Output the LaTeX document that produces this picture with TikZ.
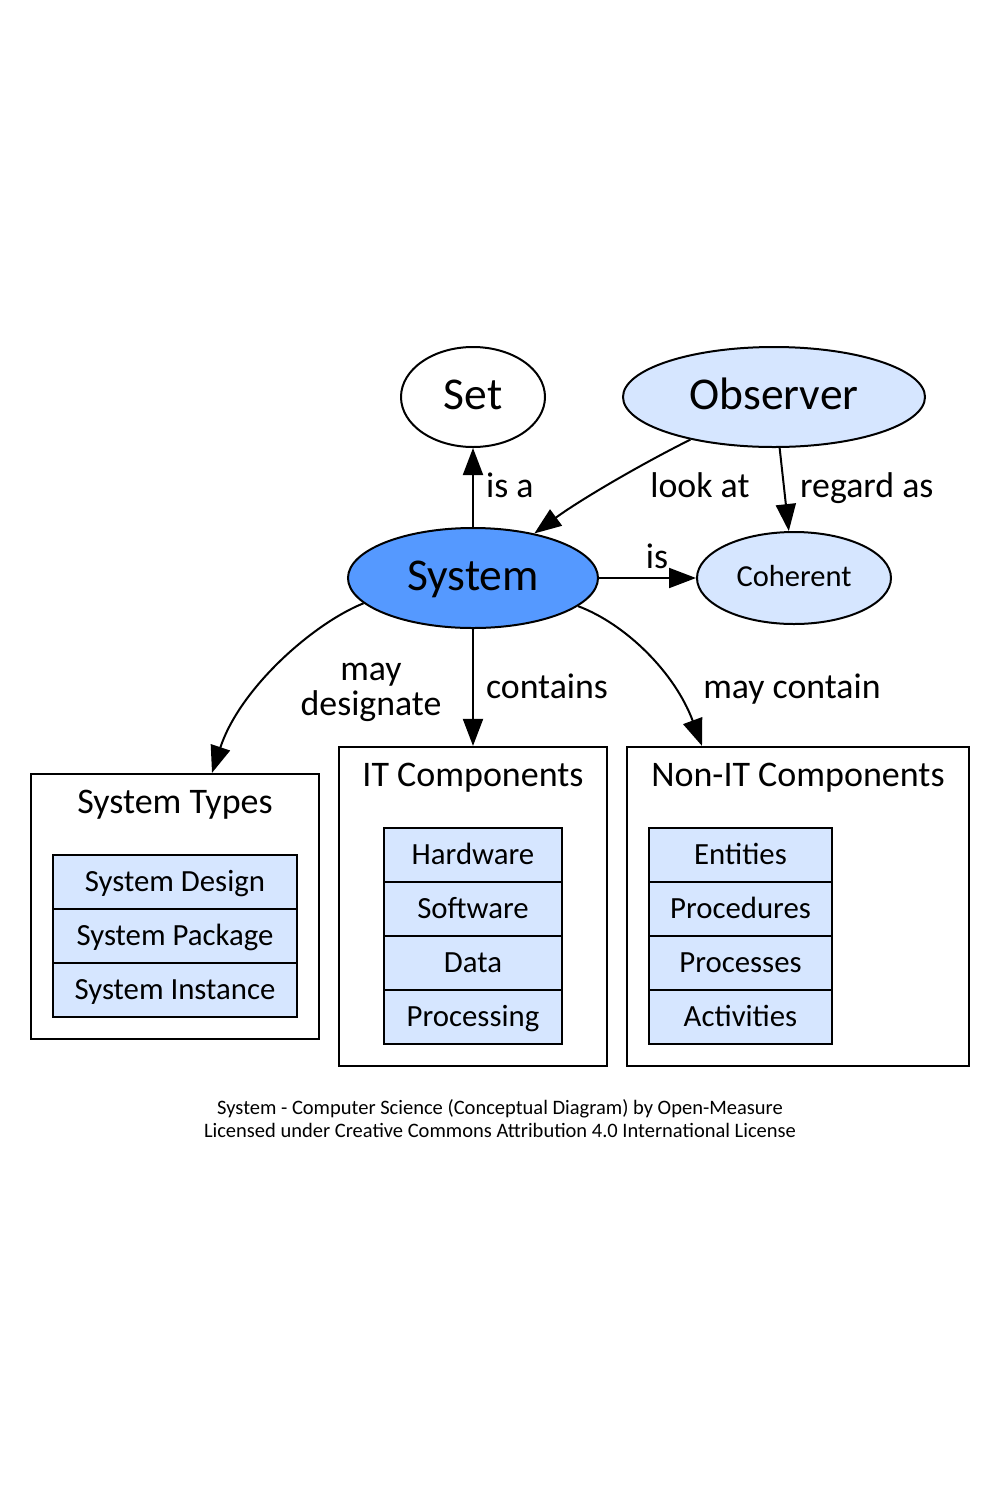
\documentclass[tikz,border=0pt]{standalone}
\usepackage{fontspec}
\setmainfont{Carlito}
\usetikzlibrary{arrows.meta,shapes.geometric}
\definecolor{lb}{RGB}{214,230,255}
\definecolor{sb}{RGB}{85,153,255}
\begin{document}
\begin{tikzpicture}[x=1pt,y=-1pt,
  arr/.style={-{Triangle[length=27pt,width=20pt]}, line width=2pt},
  ell/.style={ellipse, draw, line width=2pt, inner sep=0pt, text height=29pt, text depth=4pt, font=\fontsize{45.5pt}{54pt}\selectfont},
  rowbox/.style={rectangle, draw, line width=2pt, fill=lb, inner sep=0pt, font=\fontsize{30.8pt}{36pt}\selectfont, text height=19.8pt, text depth=0pt},
  outerbox/.style={rectangle, draw, line width=2.2pt, inner sep=0pt},
  lab/.style={font=\fontsize{35.8pt}{42pt}\selectfont, anchor=base, inner sep=0pt},
  ttl/.style={font=\fontsize{36pt}{42pt}\selectfont, anchor=base, inner sep=0pt},
  foot/.style={font=\fontsize{20.5pt}{24pt}\selectfont, anchor=base, inner sep=0pt}]
\useasboundingbox (0,0) rectangle (1000,1500);
\fill[white] (0,0) rectangle (1000,1500);

% ellipses
\node[ell, minimum width=144pt, minimum height=100pt] (set) at (473,397) {Set};
\node[ell, fill=lb, minimum width=302pt, minimum height=100pt] (obs) at (774,397) {Observer};
\node[ell, fill=sb, minimum width=250pt, minimum height=100pt] (sys) at (473,578) {System};
\node[ell, fill=lb, minimum width=194pt, minimum height=92pt, font=\fontsize{30.5pt}{36pt}\selectfont, text height=19.6pt, text depth=2pt] (coh) at (794,578) {Coherent};

% outer boxes
\node[outerbox, minimum width=288pt, minimum height=265pt] (types) at (175,906.5) {};
\node[outerbox, minimum width=268pt, minimum height=319pt] (it) at (473,906.5) {};
\node[outerbox, minimum width=342pt, minimum height=319pt] (nonit) at (798,906.5) {};

\node[ttl] (typesT) at (175,813) {System Types};
\node[ttl] (itT) at (473,786) {IT Components};
\node[ttl] (nonitT) at (798,786) {Non-IT Components};

% rows
\node[rowbox, minimum width=244pt, minimum height=54pt] (t1) at (175,882) {System Design};
\node[rowbox, minimum width=244pt, minimum height=54pt] (t2) at (175,936) {System Package};
\node[rowbox, minimum width=244pt, minimum height=54pt] (t3) at (175,990) {System Instance};

\node[rowbox, minimum width=178pt, minimum height=54pt] (i1) at (473,855) {Hardware};
\node[rowbox, minimum width=178pt, minimum height=54pt] (i2) at (473,909) {Software};
\node[rowbox, minimum width=178pt, minimum height=54pt] (i3) at (473,963) {Data};
\node[rowbox, minimum width=178pt, minimum height=54pt] (i4) at (473,1017) {Processing};

\node[rowbox, minimum width=183pt, minimum height=54pt] (n1) at (740.5,855) {Entities};
\node[rowbox, minimum width=183pt, minimum height=54pt] (n2) at (740.5,909) {Procedures};
\node[rowbox, minimum width=183pt, minimum height=54pt] (n3) at (740.5,963) {Processes};
\node[rowbox, minimum width=183pt, minimum height=54pt] (n4) at (740.5,1017) {Activities};

% edges
\draw[arr] (sys) -- (set);
\draw[arr] (sys) -- (coh);
\draw[arr] (obs) -- (coh);
\draw[arr] (obs.207) .. controls +(-52,26) and +(45,-33) .. (sys.36);
\draw[arr] (sys.193.5) .. controls +(-50,20) and +(28,-85) .. ([xshift=37pt]types.north);
\draw[arr] (sys) -- (it);
\draw[arr] (sys.-15.6) .. controls +(48,18) and +(-27,-73) .. ([xshift=-96pt]nonit.north);

% edge labels
\node[lab, anchor=base west] (lisa) at (486,497) {is a};
\node[lab] (llook) at (700,497) {look at};
\node[lab, anchor=base west] (lreg) at (800,497) {regard as};
\node[lab] (lis) at (657,568) {is};
\node[lab] (lmay) at (371,680) {may};
\node[lab] (ldes) at (371,715) {designate};
\node[lab] (lcont) at (547,698) {contains};
\node[lab] (lmc) at (792,698) {may contain};

% footer
\node[foot] (f1) at (500,1114) {System - Computer Science (Conceptual Diagram) by Open-Measure};
\node[foot] (f2) at (500,1137) {Licensed under Creative Commons Attribution 4.0 International License};
\end{tikzpicture}
\end{document}
